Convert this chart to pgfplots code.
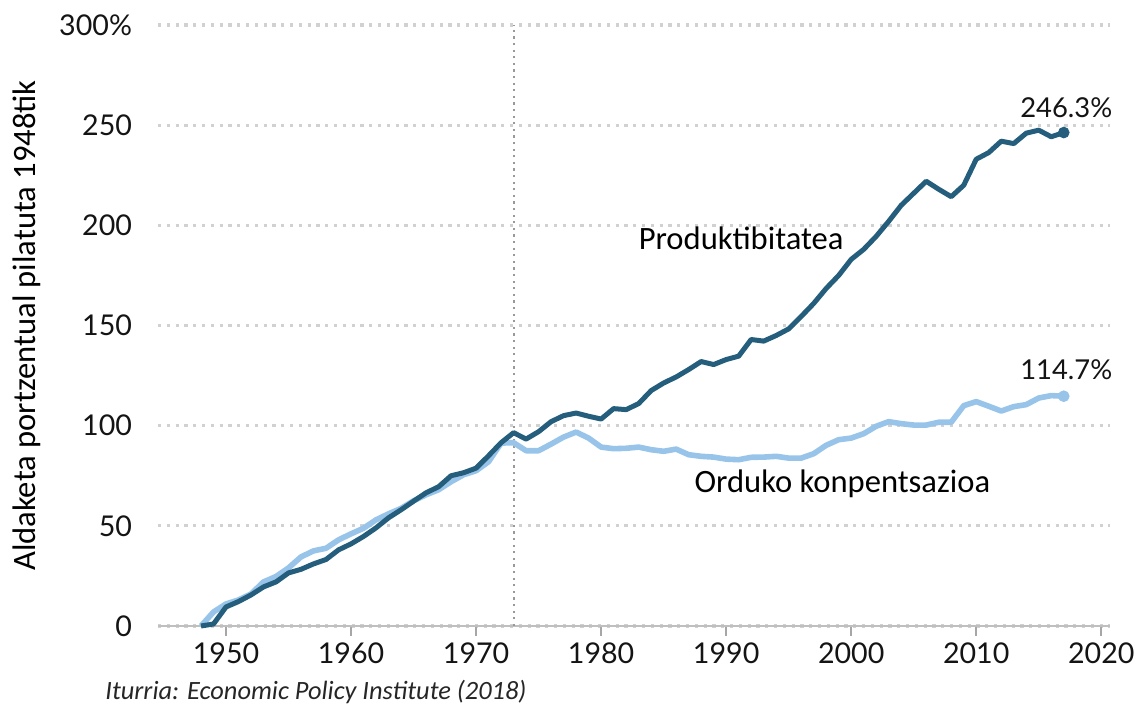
\documentclass[border=0pt]{standalone}
\usepackage{fontspec}
\setmainfont{Carlito}
\newfontfamily\latofont{Lato}
\usepackage{pgfplots}
\pgfplotsset{compat=1.18}
\definecolor{prod}{RGB}{36,94,124}
\definecolor{comp}{RGB}{152,196,234}
\pgfplotstableread{
year val
1948 0
1949 1
1950 9.5
1951 12.2
1952 15.5
1953 19.5
1954 22
1955 26.5
1956 28.3
1957 31
1958 33.2
1959 38
1960 41
1961 44.7
1962 49
1963 54
1964 58
1965 62.3
1966 66.5
1967 69.5
1968 75
1969 76.5
1970 78.8
1971 85
1972 91.5
1973 96.5
1974 93.3
1975 97
1976 102
1977 105
1978 106.3
1979 104.7
1980 103.3
1981 108.5
1982 108
1983 111
1984 117.5
1985 121.3
1986 124.3
1987 128
1988 132
1989 130.5
1990 133
1991 134.7
1992 143
1993 142.2
1994 145
1995 148.3
1996 154.5
1997 161
1998 168.5
1999 175
2000 183
2001 188
2002 194.5
2003 202
2004 210
2005 216
2006 222
2007 218
2008 214.3
2009 220
2010 233
2011 236.3
2012 242
2013 240.8
2014 246
2015 247.5
2016 244.2
2017 246.3
}\prodtable
\pgfplotstableread{
year val
1948 0
1949 7
1950 11
1951 13
1952 16
1953 22
1954 24.7
1955 29
1956 34.5
1957 37.5
1958 38.8
1959 43
1960 46
1961 48.8
1962 53
1963 56
1964 58.7
1965 62.5
1966 65.5
1967 68
1968 72
1969 75.5
1970 77.5
1971 82
1972 91.3
1973 91.5
1974 87.5
1975 87.5
1976 90.8
1977 94.3
1978 96.8
1979 93.8
1980 89.3
1981 88.5
1982 88.7
1983 89.3
1984 88
1985 87.2
1986 88.3
1987 85.5
1988 84.7
1989 84.3
1990 83.3
1991 83
1992 84.2
1993 84.3
1994 84.7
1995 83.8
1996 83.8
1997 86
1998 90.2
1999 93
2000 93.8
2001 96
2002 99.7
2003 102
2004 101
2005 100.3
2006 100.3
2007 101.7
2008 101.7
2009 110
2010 112
2011 109.7
2012 107.3
2013 109.5
2014 110.5
2015 113.8
2016 115
2017 114.7
}\comptable
\begin{document}
\begin{tikzpicture}
\path[use as bounding box] (-79pt,-39pt) rectangle (492.5pt,313pt);
\begin{axis}[at={(0,0)}, anchor=south west, scale only axis,
  width=476pt, height=300.5pt,
  xmin=1944.56, xmax=2020.7, ymin=0, ymax=300,
  axis x line=bottom, axis y line=left,
  y axis line style={draw=none},
  x axis line style={-, draw=black!25, line width=1.2pt},
  ytick={0,50,...,300}, yticklabels={0,50,100,150,200,250,300\%},
  xtick={1950,1960,...,2020},
  ytick style={draw=none},
  xtick style={draw=black!35, line width=0.8pt},
  tick align=outside, major tick length=5pt,
  ymajorgrids,
  grid style={draw=black!18, line width=1.6pt, dash pattern=on 1.6pt off 2.8pt},
  tick label style={font=\latofont\fontsize{14.3}{14.3}\selectfont, text=black!92},
  /pgf/number format/assume math mode=true,
  /pgf/number format/1000 sep={},
  yticklabel style={anchor=east, xshift=-4.5pt},
  ylabel={Aldaketa portzentual pilatuta 1948tik},
  ylabel style={at={(axis description cs:-0.1376,0.5)}, anchor=center, font=\fontsize{16.3}{16.3}\selectfont},
  clip=false]
\draw[black!40, line width=1.1pt, dash pattern=on 1.1pt off 2.2pt] (axis cs:1973,0) -- (axis cs:1973,300);
\addplot[comp, line width=2.8pt, line join=round] table[x=year,y=val] {\comptable};
\addplot[prod, line width=2.5pt, line join=round] table[x=year,y=val] {\prodtable};
\addplot[only marks, mark=*, mark size=2.7pt, comp] coordinates {(2017,114.7)};
\addplot[only marks, mark=*, mark size=2.7pt, prod] coordinates {(2017,246.3)};
\node[anchor=base, font=\latofont\fontsize{13.7}{13.7}\selectfont, text=black!92] at (axis cs:2017.2,253.8) {246.3\%};
\node[anchor=base, font=\latofont\fontsize{13.7}{13.7}\selectfont, text=black!92] at (axis cs:2017.2,123) {114.7\%};
\node[anchor=base, font=\fontsize{16.3}{16.3}\selectfont] at (axis cs:1991.2,188) {Produktibitatea};
\node[anchor=base, font=\fontsize{16.3}{16.3}\selectfont] at (axis cs:1999.3,66.75) {Orduko konpentsazioa};
\node[anchor=base west, inner sep=0pt, font=\itshape\fontsize{13.2}{13.2}\selectfont, text=black!85] at (axis description cs:-0.0557,-0.1215) {Iturria: Economic Policy Institute (2018)};
\end{axis}
\end{tikzpicture}
\end{document}
